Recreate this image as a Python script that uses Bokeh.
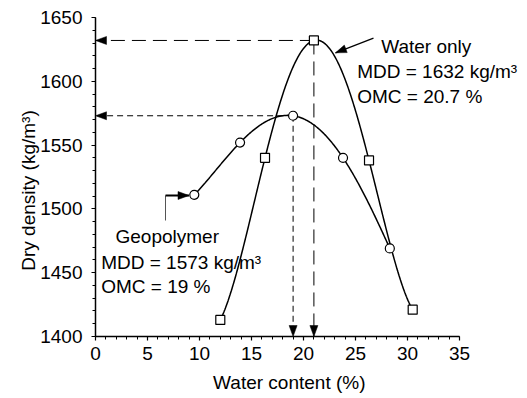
import numpy as np
from bokeh.plotting import figure
from bokeh.models import Label, SingleIntervalTicker, Range1d
from bokeh.embed import file_html
from bokeh.resources import INLINE

# ---------------- data ----------------
water_w = [12.0, 16.3, 21.0, 26.3, 30.5]        # water content (%)
water_d = [1413, 1540, 1632, 1538, 1421]        # dry density (kg/m3)
geo_w = [9.5, 13.9, 19.0, 23.8, 28.3]
geo_d = [1511, 1552, 1573, 1540, 1469]
water_mdd, water_omc = 1632, 20.7
geo_mdd, geo_omc = 1573, 19
x_ticks_interval, y_ticks_interval = 5, 50

# ---------------- layout constants ----------------
FONT = "Liberation Sans"
FS = "19px"
W, H = 527, 398
X0, X1, Y0, Y1 = 0, 35, 1400, 1650          # axis extents
AX_L, AX_R, AX_T, AX_B = 95, 459, 17, 336   # axis extents in pixels
SX = (AX_R - AX_L) / (X1 - X0)
SY = (AX_B - AX_T) / (Y1 - Y0)


def px2x(px):
    return X0 + (px - AX_L) / SX


def py2y(py):
    return Y0 + (AX_B - py) / SY


p = figure(width=W, height=H,
           x_range=Range1d(px2x(0), px2x(W)), y_range=Range1d(py2y(H), py2y(0)),
           output_backend="svg", toolbar_location=None, min_border=0)
p.outline_line_color = None
p.xgrid.visible = False
p.ygrid.visible = False
p.background_fill_color = "white"
p.border_fill_color = "white"

p.xaxis.fixed_location = Y0
p.yaxis.fixed_location = X0
p.xaxis.bounds = (X0, X1)
p.yaxis.bounds = (Y0, Y1)
p.xaxis.ticker = SingleIntervalTicker(interval=x_ticks_interval, num_minor_ticks=5)
p.yaxis.ticker = SingleIntervalTicker(interval=y_ticks_interval, num_minor_ticks=5)
for ax in (p.xaxis, p.yaxis):
    ax.axis_line_width = 1.5
    ax.axis_line_color = "black"
    ax.major_tick_line_color = "black"
    ax.minor_tick_line_color = "black"
    ax.major_tick_in = 0
    ax.major_tick_out = 4
    ax.minor_tick_in = 0
    ax.minor_tick_out = 3
    ax.major_tick_line_width = 1.2
    ax.minor_tick_line_width = 1
    ax.major_label_text_font = FONT
    ax.major_label_text_font_size = FS
    ax.major_label_text_color = "black"
p.xaxis.major_label_standoff = 6
p.yaxis.major_label_standoff = 9


def head(tip_x, tip_y, from_x, from_y, L=11, Wd=8):
    dx = (tip_x - from_x) * SX
    dy = (tip_y - from_y) * SY
    n = np.hypot(dx, dy)
    ux, uy = dx / n, dy / n
    bx, by = -ux * L, -uy * L
    qx, qy = -uy * Wd / 2, ux * Wd / 2
    xs = [tip_x, tip_x + (bx + qx) / SX, tip_x + (bx - qx) / SX]
    ys = [tip_y, tip_y + (by + qy) / SY, tip_y + (by - qy) / SY]
    return xs, ys


def smooth(xs, ys, n=300):
    c = np.polyfit(xs, ys, len(xs) - 1)
    xx = np.linspace(min(xs), max(xs), n)
    return xx, np.polyval(c, xx)


heads_x, heads_y = [], []

# dashed guide lines from the maxima to the axes
for ws, ds, dash in ((water_w, water_d, "14 7"), (geo_w, geo_d, "6 4")):
    i = int(np.argmax(ds))
    xm, ym = ws[i], ds[i]
    p.segment(x0=[xm, xm], y0=[ym, ym], x1=[X0, xm], y1=[ym, Y0],
              line_color="black", line_width=1, line_dash=dash)
    hx, hy = head(X0, ym, xm, ym)
    heads_x.append(hx); heads_y.append(hy)
    hx, hy = head(xm, Y0, xm, ym)
    heads_x.append(hx); heads_y.append(hy)

# pointer arrows to the curves
wa_start = (px2x(373), py2y(37.7))
wa_tip = (px2x(335), py2y(52.3))
p.segment(x0=[wa_start[0]], y0=[wa_start[1]], x1=[wa_tip[0]], y1=[wa_tip[1]],
          line_color="black", line_width=1.3)
hx, hy = head(wa_tip[0], wa_tip[1], wa_start[0], wa_start[1])
heads_x.append(hx); heads_y.append(hy)

ga_corner = (px2x(165), py2y(195))
ga_bottom = (px2x(165), py2y(220))
ga_tip = (px2x(188.5), py2y(195))
p.segment(x0=[ga_bottom[0]], y0=[ga_bottom[1]], x1=[ga_corner[0]], y1=[ga_corner[1]],
          line_color="#555555", line_width=1)
p.segment(x0=[ga_corner[0]], y0=[ga_corner[1]], x1=[ga_tip[0]], y1=[ga_tip[1]],
          line_color="black", line_width=1.8)
hx, hy = head(ga_tip[0], ga_tip[1], ga_corner[0], ga_corner[1])
heads_x.append(hx); heads_y.append(hy)

p.patches(xs=heads_x, ys=heads_y, fill_color="black", line_color="black", line_width=0.5)

# smooth curves
xx, yy = smooth(water_w, water_d)
p.line(xx, yy, line_color="black", line_width=1.5)
xx, yy = smooth(geo_w, geo_d)
p.line(xx, yy, line_color="black", line_width=1.5)

# markers
p.scatter(water_w, water_d, marker="square", size=9, fill_color="white",
          line_color="black", line_width=1.2)
p.scatter(geo_w, geo_d, marker="circle", size=9, fill_color="white",
          line_color="black", line_width=1.2)

# texts
texts = [
    ("Water only", 380.7, 45.7),
    (f"MDD = {water_mdd} kg/m\u00b3", 356.7, 70.7),
    (f"OMC = {water_omc} %", 356.7, 95.7),
    ("Geopolymer", 115.0, 235.7),
    (f"MDD = {geo_mdd} kg/m\u00b3", 100.7, 261.7),
    (f"OMC = {geo_omc} %", 100.7, 285.7),
]
for t, lx, by in texts:
    p.add_layout(Label(x=px2x(lx), y=py2y(by), text=t, text_font=FONT,
                       text_font_size=FS, text_color="black",
                       text_align="left", text_baseline="alphabetic"))

p.add_layout(Label(x=px2x(288.8), y=py2y(382), text="Water content (%)",
                   text_font=FONT, text_font_size=FS, text_color="black",
                   text_align="center", text_baseline="middle"))
p.add_layout(Label(x=px2x(28.3), y=py2y(190), text="Dry density (kg/m\u00b3)",
                   text_font=FONT, text_font_size=FS, text_color="black",
                   text_align="center", text_baseline="alphabetic",
                   angle=np.pi / 2))

open("out.html", "w").write(file_html(p, INLINE))
